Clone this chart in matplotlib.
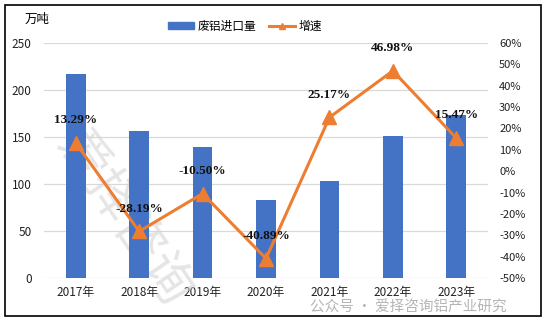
import numpy as np
import matplotlib
matplotlib.use("Agg")
import matplotlib.pyplot as plt
from matplotlib.lines import Line2D
from matplotlib.patches import Patch, Rectangle

plt.rcParams['font.family'] = ['Noto Sans CJK SC', 'DejaVu Sans']

years = ['2017年', '2018年', '2019年', '2020年', '2021年', '2022年', '2023年']
imports = [217, 156, 139, 83, 103, 151, 173]          # 万吨
growth = [13.29, -28.19, -10.50, -40.89, 25.17, 46.98, 15.47]  # %

blue = '#4472C4'
orange = '#ED7D31'

fig = plt.figure(figsize=(5.48, 3.24), dpi=100)
ax = fig.add_axes([44/548, 1 - 278/324, 444/548, 235/324])
ax2 = ax.twinx()

x = np.arange(len(years))
ax.bar(x, imports, width=0.31, color=blue, zorder=2)
ax.set_ylim(0, 250)
ax.set_xlim(-0.5, len(years) - 0.5)
ax.set_yticks(np.arange(0, 251, 50))
ax.set_xticks(x)
ax.set_xticklabels(years, fontsize=8)
ax.yaxis.grid(True, color='#D9D9D9', lw=0.9, zorder=0)
ax.set_axisbelow(True)
ax.tick_params(axis='both', length=0, labelsize=8.5, colors='#222222')
ax.tick_params(axis='y', pad=9)
ax.tick_params(axis='x', pad=6)
for s in ax.spines.values():
    s.set_visible(False)

ax2.plot(x, growth, color=orange, lw=2.2, marker='^', markersize=10, zorder=4)
ax2.set_ylim(-50, 60)
ax2.set_yticks(np.arange(-50, 61, 10))
ax2.set_yticklabels([f'{v}%' for v in range(-50, 61, 10)])
ax2.tick_params(axis='y', length=0, labelsize=8, pad=8, colors='#222222')
for s in ax2.spines.values():
    s.set_visible(False)

for xi, g in zip(x, growth):
    ax2.annotate(f'{g:.2f}%', (xi, g), xytext=(0, 12), textcoords='offset points',
                 ha='center', va='bottom', fontsize=9.5, fontweight='bold',
                 family='Liberation Serif', color='#111111', zorder=5)

# faint watermark behind the bars
ax.text(0.75, 62, '爱择咨询', rotation=-56, fontsize=36, color='#D0D0D0', alpha=0.55,
        ha='center', va='center', zorder=1)
fig.text(0.745, 1 - 308/324, '公众号 · 爱择咨询铝产业研究', fontsize=10.5, color='#B5B5B5',
         ha='center', va='center')

fig.text(25/548, 1 - 19/324, '万吨', fontsize=9, ha='left', va='center')

handles = [Patch(color=blue),
           Line2D([0], [0], color=orange, lw=2.2, marker='^', markersize=5)]
fig.legend(handles, ['废铝进口量', '增速'], loc='center', bbox_to_anchor=(245/548, 1 - 26/324),
           ncol=2, frameon=False, fontsize=8.5, handlelength=2.2, handleheight=0.5,
           columnspacing=1.0, handletextpad=0.3)

fig.patches.append(Rectangle((5/548, 1 - 316/324), 536/548, 311/324, transform=fig.transFigure,
                             fill=False, edgecolor='black', lw=1.2))

fig.savefig('out.png', dpi=100)
